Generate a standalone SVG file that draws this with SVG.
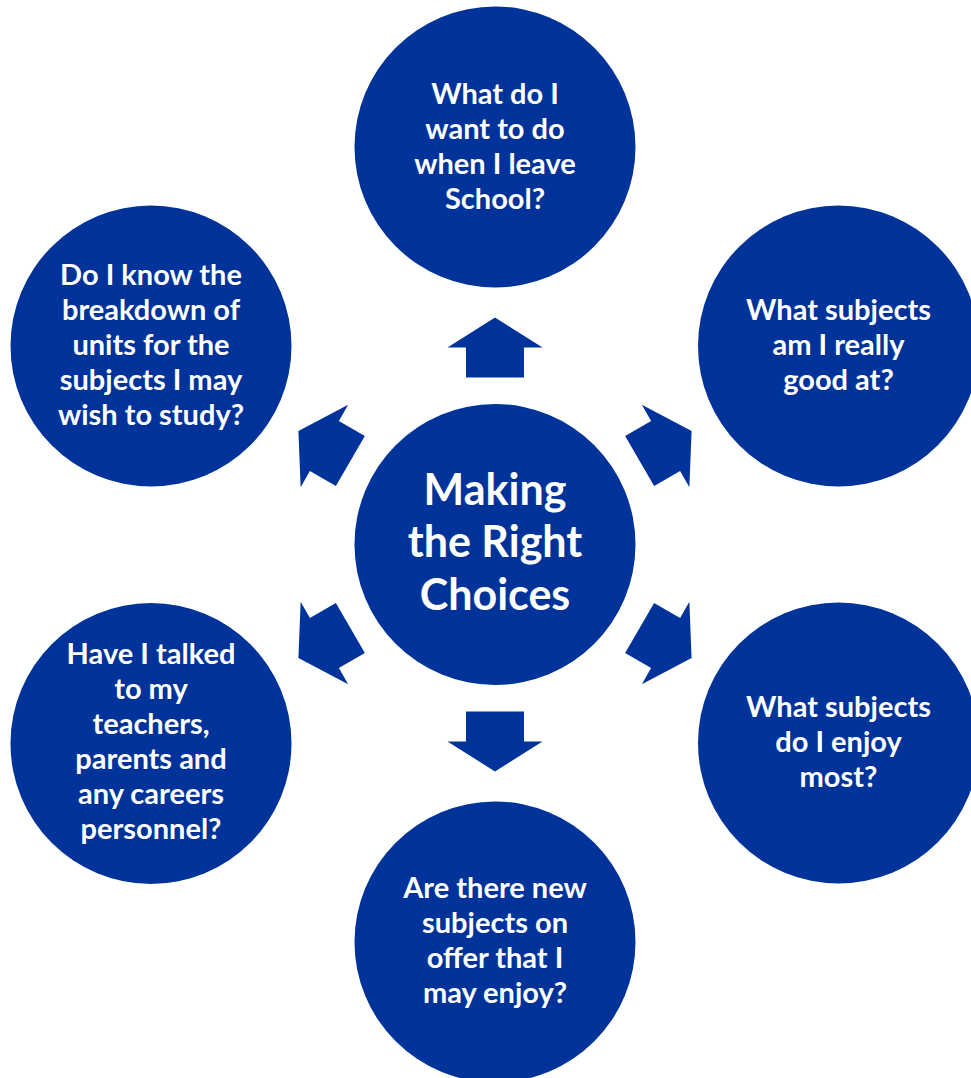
<svg xmlns="http://www.w3.org/2000/svg" xmlns:xlink="http://www.w3.org/1999/xlink" width="971" height="1078" viewBox="0 0 971 1078">
<defs>
<style>
.c{fill:#003399}
.t{fill:#ffffff;font-family:Lato,"Liberation Sans",sans-serif;font-weight:700;font-size:29px;text-anchor:middle}
.tc{font-size:43px}
.a{fill:#003399}
</style>
<path id="arr" d="M495,317.5 L542.5,347.5 L524,347.5 L524,377.5 L466,377.5 L466,347.5 L447.5,347.5 Z"/>
</defs>
<rect width="971" height="1078" fill="#ffffff"/>
<g id="connectors" class="a">
<use xlink:href="#arr" href="#arr"/>
<use xlink:href="#arr" href="#arr" transform="rotate(60 495 544.5)"/>
<use xlink:href="#arr" href="#arr" transform="rotate(120 495 544.5)"/>
<use xlink:href="#arr" href="#arr" transform="rotate(180 495 544.5)"/>
<use xlink:href="#arr" href="#arr" transform="rotate(240 495 544.5)"/>
<use xlink:href="#arr" href="#arr" transform="rotate(300 495 544.5)"/>
</g>
<g id="center">
<circle class="c" cx="495" cy="544.5" r="140.5"/>
<text class="t tc"><tspan x="495" y="505">Making</tspan><tspan x="495" y="557">the Right</tspan><tspan x="495" y="610">Choices</tspan></text>
</g>
<g id="top">
<circle class="c" cx="495" cy="147" r="140.5"/>
<text class="t"><tspan x="495" y="104">What do I</tspan><tspan x="495" y="139">want to do</tspan><tspan x="495" y="174">when I leave</tspan><tspan x="495" y="209">School?</tspan></text>
</g>
<g id="right-top">
<circle class="c" cx="838.5" cy="346" r="140.5"/>
<text class="t"><tspan x="838.5" y="320">What subjects</tspan><tspan x="838.5" y="355">am I really</tspan><tspan x="838.5" y="390">good at?</tspan></text>
</g>
<g id="right-bottom">
<circle class="c" cx="838.5" cy="743" r="140.5"/>
<text class="t"><tspan x="838.5" y="717">What subjects</tspan><tspan x="838.5" y="752">do I enjoy</tspan><tspan x="838.5" y="787">most?</tspan></text>
</g>
<g id="bottom">
<circle class="c" cx="495" cy="942" r="140.5"/>
<text class="t"><tspan x="495" y="898">Are there new</tspan><tspan x="495" y="933">subjects on</tspan><tspan x="495" y="968">offer that I</tspan><tspan x="495" y="1003">may enjoy?</tspan></text>
</g>
<g id="left-bottom">
<circle class="c" cx="151" cy="743.5" r="140.5"/>
<text class="t"><tspan x="151" y="664">Have I talked</tspan><tspan x="151" y="699">to my</tspan><tspan x="151" y="734">teachers,</tspan><tspan x="151" y="769">parents and</tspan><tspan x="151" y="804">any careers</tspan><tspan x="151" y="839">personnel?</tspan></text>
</g>
<g id="left-top">
<circle class="c" cx="151" cy="346" r="140.5"/>
<text class="t"><tspan x="151" y="285">Do I know the</tspan><tspan x="151" y="320">breakdown of</tspan><tspan x="151" y="355">units for the</tspan><tspan x="151" y="390">subjects I may</tspan><tspan x="151" y="425">wish to study?</tspan></text>
</g>
</svg>
